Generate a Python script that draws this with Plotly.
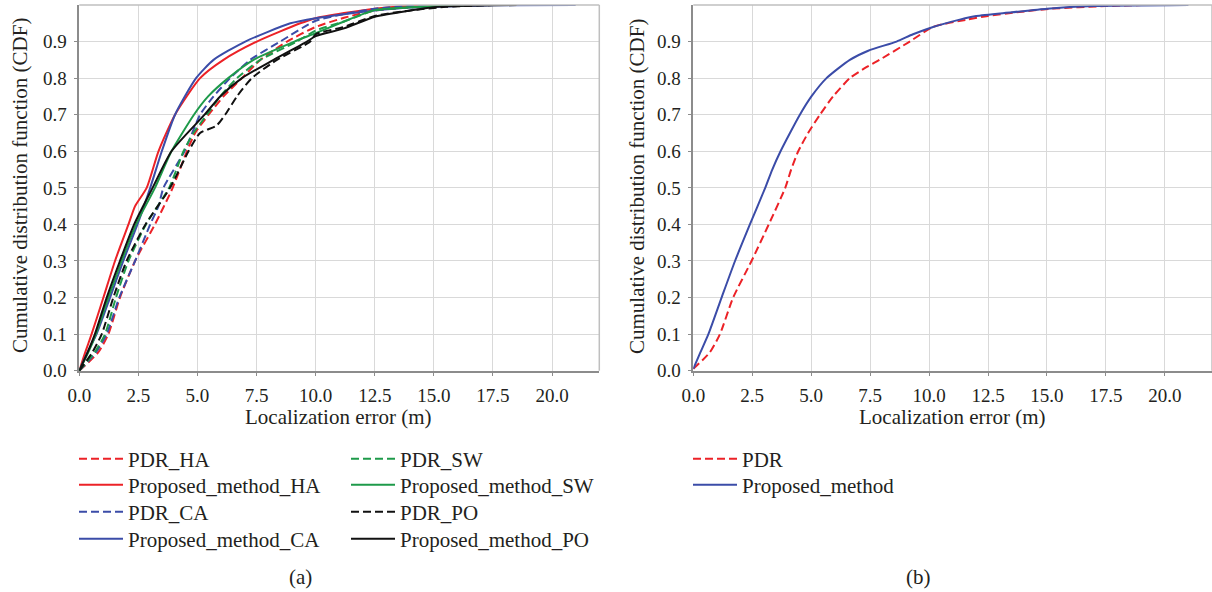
import plotly.graph_objects as go

# ---------------- data ----------------
# Panel (a): localization error (m) vs CDF
pdr_ha_err = [0, 0.8, 1.23, 1.72, 2.36, 3.2, 3.95, 4.55, 4.9, 5.47, 6.1, 6.88, 7.66, 8.79, 10.0, 11.2, 12.5, 14.5, 16.0]
pdr_ha_cdf = [0, 0.05, 0.1, 0.2, 0.3, 0.4, 0.5, 0.6, 0.65, 0.7, 0.75, 0.8, 0.85, 0.9, 0.94, 0.965, 0.985, 0.996, 1.0]

prop_ha_err = [0, 0.25, 0.52, 1.02, 1.51, 2.08, 2.36, 2.85, 3.35, 4.05, 5.11, 6.1, 7.51, 9.35, 10.0, 11.2, 12.5, 14.0, 15.5]
prop_ha_cdf = [0, 0.05, 0.1, 0.2, 0.3, 0.4, 0.45, 0.5, 0.6, 0.7, 0.8, 0.85, 0.9, 0.95, 0.964, 0.978, 0.99, 0.997, 1.0]

pdr_ca_err = [0, 0.7, 1.16, 1.69, 2.36, 3.0, 3.35, 3.56, 4.45, 5.11, 5.68, 6.38, 7.23, 8.5, 10.0, 11.2, 12.5, 14.0, 16.0]
pdr_ca_cdf = [0, 0.05, 0.1, 0.2, 0.3, 0.4, 0.45, 0.5, 0.6, 0.7, 0.75, 0.8, 0.85, 0.9, 0.957, 0.975, 0.99, 0.997, 1.0]

prop_ca_err = [0, 0.35, 0.73, 1.3, 1.86, 2.46, 3.0, 3.49, 4.05, 4.94, 5.68, 7.02, 8.93, 10.0, 11.2, 12.5, 14.0, 16.0, 17.5, 21.0]
prop_ca_cdf = [0, 0.05, 0.1, 0.2, 0.3, 0.4, 0.5, 0.6, 0.7, 0.8, 0.85, 0.9, 0.95, 0.964, 0.975, 0.985, 0.993, 0.997, 0.999, 1.0]

pdr_sw_err = [0, 0.65, 1.09, 1.55, 2.08, 2.82, 3.8, 4.41, 4.83, 5.4, 5.96, 6.67, 7.66, 9.2, 10.0, 11.2, 12.5, 15.0, 16.5]
pdr_sw_cdf = [0, 0.05, 0.1, 0.2, 0.3, 0.4, 0.5, 0.6, 0.65, 0.7, 0.75, 0.8, 0.85, 0.9, 0.93, 0.955, 0.985, 0.997, 1.0]

prop_sw_err = [0, 0.38, 0.7, 1.23, 1.79, 2.4, 3.2, 3.9, 4.85, 5.45, 6.3, 7.37, 9.1, 10.0, 11.2, 12.5, 15.0, 16.5]
prop_sw_cdf = [0, 0.05, 0.1, 0.2, 0.3, 0.4, 0.5, 0.6, 0.7, 0.75, 0.8, 0.85, 0.9, 0.923, 0.955, 0.986, 0.997, 1.0]

pdr_po_err = [0, 0.55, 0.95, 1.44, 2.0, 2.8, 3.84, 4.62, 5.11, 5.8, 6.17, 6.67, 7.3, 8.36, 9.77, 10.0, 11.2, 12.5, 14.0, 15.5, 17.5]
pdr_po_cdf = [0, 0.05, 0.1, 0.2, 0.3, 0.4, 0.5, 0.6, 0.65, 0.67, 0.7, 0.75, 0.8, 0.85, 0.9, 0.92, 0.94, 0.97, 0.985, 0.995, 1.0]

prop_po_err = [0, 0.35, 0.66, 1.16, 1.72, 2.32, 3.1, 3.9, 5.3, 5.96, 6.88, 8.22, 9.63, 10.0, 11.2, 12.5, 14.0, 15.0, 18.5]
prop_po_cdf = [0, 0.05, 0.1, 0.2, 0.3, 0.4, 0.5, 0.6, 0.7, 0.75, 0.8, 0.85, 0.9, 0.915, 0.936, 0.968, 0.985, 0.994, 1.0]

# Panel (b)
pdr_err = [0, 0.7, 1.13, 1.69, 2.47, 3.2, 3.9, 4.15, 4.45, 4.87, 5.37, 5.93, 6.64, 7.34, 7.9, 9.18, 10.17, 11.6, 12.5, 13.7, 15.2, 17.5, 19.0]
pdr_cdf = [0.005, 0.05, 0.1, 0.2, 0.3, 0.4, 0.5, 0.55, 0.6, 0.65, 0.7, 0.75, 0.8, 0.83, 0.85, 0.9, 0.94, 0.96, 0.97, 0.98, 0.99, 0.997, 1.0]

prop_err = [0, 0.3, 0.64, 1.2, 1.77, 2.4, 3.05, 3.35, 3.7, 4.1, 4.52, 5.01, 5.65, 6.64, 7.42, 8.62, 9.32, 10.17, 11.3, 12.0, 13.5, 15.0, 17.0, 21.0]
prop_cdf = [0.005, 0.05, 0.1, 0.2, 0.3, 0.4, 0.5, 0.55, 0.6, 0.65, 0.7, 0.75, 0.8, 0.85, 0.875, 0.9, 0.92, 0.94, 0.96, 0.97, 0.98, 0.99, 0.997, 1.0]

x_ticks = [0, 2.5, 5, 7.5, 10, 12.5, 15, 17.5, 20]
y_ticks = [0, 0.1, 0.2, 0.3, 0.4, 0.5, 0.6, 0.7, 0.8, 0.9]

# ---------------- styling ----------------
W, H = 1212, 592
FONT = "Liberation Serif"
TXT = "#231f20"
RED, BLUE, GREEN, BLACK = "#EC2227", "#3B4CA8", "#1E9A4A", "#111111"
DASH = "8px,4px"
TICK_SIZE = 19
TEXT_SIZE = 21

def px_x(p):
    return p / W

def px_y(p):
    return 1 - p / H

fig = go.Figure()

# (name, x, y, colour, dash, subplot, legend-x px, legend-y px)
ROWS = [459, 485, 512, 539]
series = [
    ("PDR_HA", pdr_ha_err, pdr_ha_cdf, RED, DASH, 1, 74, ROWS[0]),
    ("Proposed_method_HA", prop_ha_err, prop_ha_cdf, RED, "solid", 1, 74, ROWS[1]),
    ("PDR_CA", pdr_ca_err, pdr_ca_cdf, BLUE, DASH, 1, 74, ROWS[2]),
    ("Proposed_method_CA", prop_ca_err, prop_ca_cdf, BLUE, "solid", 1, 74, ROWS[3]),
    ("PDR_SW", pdr_sw_err, pdr_sw_cdf, GREEN, DASH, 1, 346, ROWS[0]),
    ("Proposed_method_SW", prop_sw_err, prop_sw_cdf, GREEN, "solid", 1, 346, ROWS[1]),
    ("PDR_PO", pdr_po_err, pdr_po_cdf, BLACK, DASH, 1, 346, ROWS[2]),
    ("Proposed_method_PO", prop_po_err, prop_po_cdf, BLACK, "solid", 1, 346, ROWS[3]),
    ("PDR", pdr_err, pdr_cdf, RED, DASH, 2, 688, ROWS[0]),
    ("Proposed_method", prop_err, prop_cdf, BLUE, "solid", 2, 688, ROWS[1]),
]

legend_common = dict(font=dict(family=FONT, size=TEXT_SIZE, color=TXT),
                     bgcolor="rgba(0,0,0,0)", borderwidth=0,
                     xanchor="left", yanchor="middle", itemwidth=44,
                     orientation="v", xref="paper", yref="paper")

legend_layout = {}
for i, (name, xs, ys, col, dash, sp, lx, ly) in enumerate(series):
    lg = "legend" if i == 0 else f"legend{i + 1}"
    fig.add_trace(go.Scatter(
        x=xs, y=ys, mode="lines", name=name,
        line=dict(color=col, width=2, dash=dash, shape="spline", smoothing=0.6),
        xaxis="x" if sp == 1 else "x2", yaxis="y" if sp == 1 else "y2",
        legend=lg))
    legend_layout[lg] = dict(x=px_x(lx), y=px_y(ly), **legend_common)

ydom = [px_y(370.7), px_y(5)]
common_x = dict(range=[0, 22.0], tickvals=x_ticks, tickformat=".1f",
                showgrid=True, gridcolor="#D9D9D9", gridwidth=1,
                showline=True, linecolor="#8C8C8C", linewidth=1.5,
                ticks="outside", ticklen=4, tickcolor="#8C8C8C",
                ticklabelstandoff=3,
                zeroline=False, automargin=False,
                tickfont=dict(family=FONT, size=TICK_SIZE, color=TXT))
common_y = dict(range=[0, 1.0], tickvals=y_ticks, tickformat=".1f",
                showgrid=True, gridcolor="#D9D9D9", gridwidth=1,
                showline=True, linecolor="#8C8C8C", linewidth=1.5,
                ticks="outside", ticklen=4, tickcolor="#8C8C8C",
                ticklabelstandoff=3,
                zeroline=False, automargin=False, domain=ydom,
                tickfont=dict(family=FONT, size=TICK_SIZE, color=TXT))

fig.update_layout(
    width=W, height=H,
    margin=dict(l=0, r=0, t=0, b=0, autoexpand=False),
    paper_bgcolor="white", plot_bgcolor="white",
    font=dict(family=FONT, size=TEXT_SIZE, color=TXT),
    xaxis=dict(domain=[px_x(79.3), px_x(599.3)], anchor="y", **common_x),
    yaxis=dict(anchor="x", **common_y),
    xaxis2=dict(domain=[px_x(693.3), 1.0], anchor="y2", **common_x),
    yaxis2=dict(anchor="x2", **common_y),
    showlegend=True,
    **legend_layout,
)

# light top/right frame lines
for xr, yr in (("x domain", "y domain"), ("x2 domain", "y2 domain")):
    fig.add_shape(type="line", xref=xr, yref=yr, x0=0, x1=1, y0=1, y1=1,
                  line=dict(color="#BFBFBF", width=1.5))
    fig.add_shape(type="line", xref=xr, yref=yr, x0=1, x1=1, y0=0, y1=1,
                  line=dict(color="#BFBFBF", width=1.5))

ann_font = dict(family=FONT, size=TEXT_SIZE, color=TXT)
annotations = [
    dict(text="Localization error (m)", x=px_x(338), y=px_y(417)),
    dict(text="Localization error (m)", x=px_x(952), y=px_y(417)),
    dict(text="Cumulative distribution function (CDF)", x=px_x(20), y=px_y(186), textangle=-90),
    dict(text="Cumulative distribution function (CDF)", x=px_x(637), y=px_y(186), textangle=-90),
    dict(text="(a)", x=px_x(300), y=px_y(577)),
    dict(text="(b)", x=px_x(918), y=px_y(577)),
]
for a in annotations:
    fig.add_annotation(xref="paper", yref="paper", showarrow=False,
                       xanchor="center", yanchor="middle", font=ann_font, **a)

fig.write_html("out.html")
